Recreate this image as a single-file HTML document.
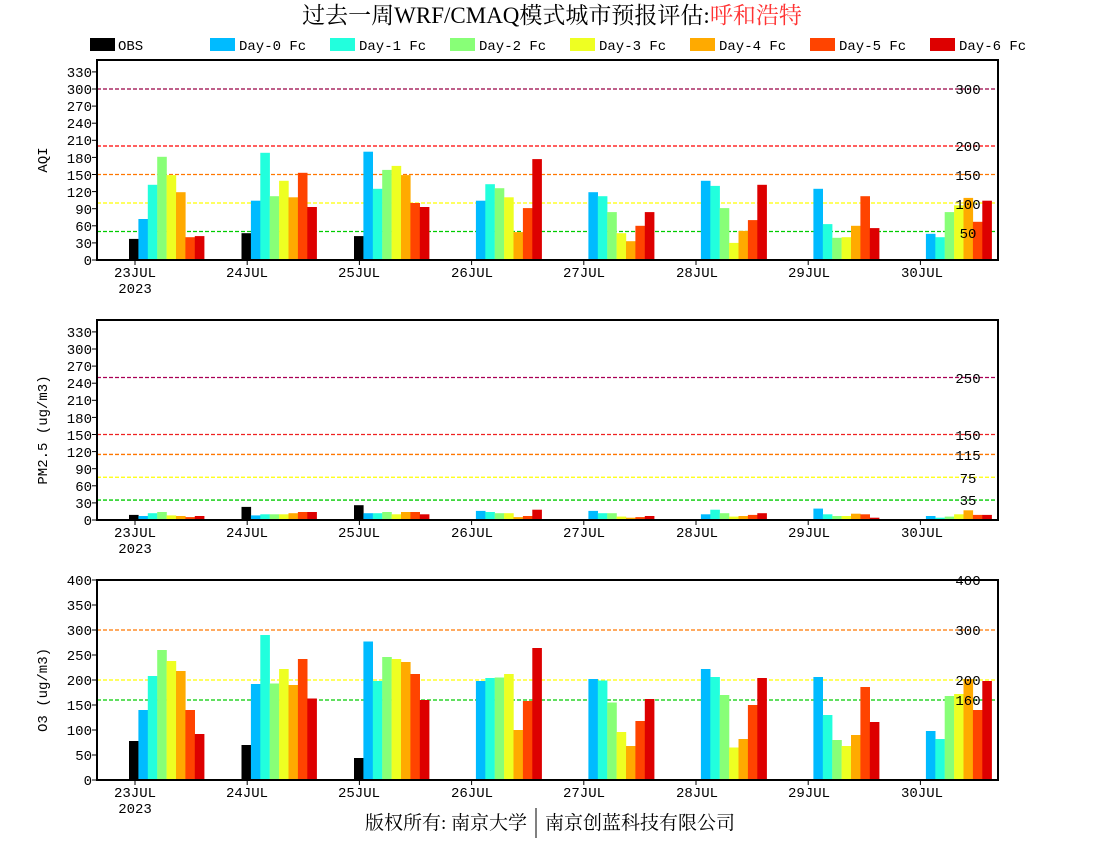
<!DOCTYPE html>
<html><head><meta charset="utf-8"><style>
body{margin:0;background:#fff;}
svg{display:block;}
text{font-family:"Liberation Mono","Noto Sans CJK SC",monospace;font-size:14px;fill:#000;}
.t{font-family:"Liberation Serif","Noto Serif CJK SC",serif;}
</style></head><body>
<svg id="s" width="1100" height="850" xmlns="http://www.w3.org/2000/svg">
<text class="t" x="552" y="23" text-anchor="middle" style="font-size:23px">过去一周WRF/CMAQ模式城市预报评估:<tspan fill="#ff3333">呼和浩特</tspan></text>
<g id="leg" style="font-size:15px">
<rect x="90" y="38" width="25" height="13" fill="#000"/><text x="118" y="50">OBS</text>
<rect x="210" y="38" width="25" height="13" fill="#00bbff"/><text x="239" y="50">Day-0 Fc</text>
<rect x="330" y="38" width="25" height="13" fill="#22ffdd"/><text x="359" y="50">Day-1 Fc</text>
<rect x="450" y="38" width="25" height="13" fill="#88ff77"/><text x="479" y="50">Day-2 Fc</text>
<rect x="570" y="38" width="25" height="13" fill="#eeff22"/><text x="599" y="50">Day-3 Fc</text>
<rect x="690" y="38" width="25" height="13" fill="#ffaa00"/><text x="719" y="50">Day-4 Fc</text>
<rect x="810" y="38" width="25" height="13" fill="#ff4400"/><text x="839" y="50">Day-5 Fc</text>
<rect x="930" y="38" width="25" height="13" fill="#dd0000"/><text x="959" y="50">Day-6 Fc</text>
</g>
<g id="plots"></g>
<g text-anchor="end">
<text x="92" y="265">0</text><text x="92" y="248">30</text><text x="92" y="231">60</text><text x="92" y="214">90</text><text x="92" y="197">120</text><text x="92" y="180">150</text><text x="92" y="163">180</text><text x="92" y="145">210</text><text x="92" y="128">240</text><text x="92" y="111">270</text><text x="92" y="94">300</text><text x="92" y="77">330</text>
<text x="92" y="525">0</text><text x="92" y="508">30</text><text x="92" y="491">60</text><text x="92" y="474">90</text><text x="92" y="457">120</text><text x="92" y="440">150</text><text x="92" y="423">180</text><text x="92" y="405">210</text><text x="92" y="388">240</text><text x="92" y="371">270</text><text x="92" y="354">300</text><text x="92" y="337">330</text>
<text x="92" y="785">0</text><text x="92" y="760">50</text><text x="92" y="735">100</text><text x="92" y="710">150</text><text x="92" y="685">200</text><text x="92" y="660">250</text><text x="92" y="635">300</text><text x="92" y="610">350</text><text x="92" y="585">400</text>
</g>
<g text-anchor="middle">
<text x="968" y="94">300</text><text x="968" y="151">200</text><text x="968" y="180">150</text><text x="968" y="209">100</text><text x="968" y="238">50</text>
<text x="968" y="383">250</text><text x="968" y="440">150</text><text x="968" y="460">115</text><text x="968" y="483">75</text><text x="968" y="505">35</text>
<text x="968" y="585">400</text><text x="968" y="635">300</text><text x="968" y="685">200</text><text x="968" y="705">160</text>
</g>
<g text-anchor="middle">
<text x="135" y="277">23JUL</text><text x="135" y="293">2023</text><text x="247" y="277">24JUL</text><text x="359" y="277">25JUL</text><text x="472" y="277">26JUL</text><text x="584" y="277">27JUL</text><text x="697" y="277">28JUL</text><text x="809" y="277">29JUL</text><text x="922" y="277">30JUL</text>
<text x="135" y="537">23JUL</text><text x="135" y="553">2023</text><text x="247" y="537">24JUL</text><text x="359" y="537">25JUL</text><text x="472" y="537">26JUL</text><text x="584" y="537">27JUL</text><text x="697" y="537">28JUL</text><text x="809" y="537">29JUL</text><text x="922" y="537">30JUL</text>
<text x="135" y="797">23JUL</text><text x="135" y="813">2023</text><text x="247" y="797">24JUL</text><text x="359" y="797">25JUL</text><text x="472" y="797">26JUL</text><text x="584" y="797">27JUL</text><text x="697" y="797">28JUL</text><text x="809" y="797">29JUL</text><text x="922" y="797">30JUL</text>
</g>
<g style="font-size:18px" text-anchor="middle">
<text x="0" y="0" transform="translate(47,160) rotate(-90)">AQI</text>
<text x="0" y="0" transform="translate(47,430) rotate(-90)">PM2.5 (ug/m3)</text>
<text x="0" y="0" transform="translate(47,690) rotate(-90)">O3 (ug/m3)</text>
</g>
<text class="t" x="446" y="829" text-anchor="middle" style="font-size:19px">版权所有: 南京大学</text>
<line x1="536" y1="808" x2="536" y2="838" stroke="#000" stroke-width="1"/>
<text class="t" x="640" y="829" text-anchor="middle" style="font-size:19px">南京创蓝科技有限公司</text>
</svg>
<script>
var C=["#000000","#00bbff","#22ffdd","#88ff77","#eeff22","#ffaa00","#ff4400","#dd0000"];
var P=[
{top:60,zero:260,k:0.57,lines:[[300,"#990044"],[200,"#ff0000"],[150,"#ff7700"],[100,"#ffff00"],[50,"#00cc00"]],yt:[0,30,60,90,120,150,180,210,240,270,300,330],
d:[[37,72,132,181,149,119,40,42],[47,104,188,112,139,110,153,93],[42,190,125,158,165,149,100,93],[0,104,133,126,110,49,91,177],[0,119,112,84,47,33,60,84],[0,139,130,91,30,51,70,132],[0,125,63,39,40,60,112,56],[0,46,40,84,96,109,67,104]]},
{top:320,zero:520,k:0.57,lines:[[250,"#aa0055"],[150,"#ee2222"],[115,"#ff7700"],[75,"#ffff00"],[35,"#00cc00"]],yt:[0,30,60,90,120,150,180,210,240,270,300,330],
d:[[9,7,12,14,8,7,5,7],[23,8,10,10,10,12,14,14],[26,12,12,14,10,14,14,10],[0,16,14,12,12,5,7,18],[0,16,12,12,6,4,5,7],[0,10,18,12,6,7,9,12],[0,20,10,7,7,11,10,4],[0,7,4,6,10,17,9,9]]},
{top:580,zero:780,k:0.5,lines:[[400,"#ff0000"],[300,"#ff7700"],[200,"#ffff00"],[160,"#00cc00"]],yt:[0,50,100,150,200,250,300,350,400],
d:[[78,140,208,260,238,218,140,92],[70,192,290,193,222,190,242,163],[44,277,198,246,242,236,212,160],[0,198,204,205,212,100,158,264],[0,202,199,155,96,68,118,162],[0,222,206,170,65,82,150,204],[0,206,130,80,68,90,186,116],[0,98,82,168,172,202,140,198]]}
];
var L=97,R=998,h="";
P.forEach(function(p){
 p.lines.forEach(function(l){var y=p.zero-l[0]*p.k;h+='<line x1="'+L+'" x2="'+R+'" y1="'+y+'" y2="'+y+'" stroke="'+l[1]+'" stroke-width="1.3" stroke-dasharray="4,2"/>';});
 p.d.forEach(function(g,gi){g.forEach(function(v,i){if(v<=0)return;var x=129+112.5*gi+9.4*i,hh=v*p.k;
  h+='<rect x="'+x.toFixed(1)+'" y="'+(p.zero-hh).toFixed(1)+'" width="9.6" height="'+hh.toFixed(1)+'" fill="'+C[i]+'"/>';});
  var tx=135+112.2*gi;h+='<line x1="'+tx+'" x2="'+tx+'" y1="'+p.zero+'" y2="'+(p.zero+5)+'" stroke="#000"/>';});
 p.yt.forEach(function(v){var y=p.zero-v*p.k;h+='<line x1="'+(L-5)+'" x2="'+L+'" y1="'+y+'" y2="'+y+'" stroke="#000"/>';});
 h+='<rect x="'+L+'" y="'+p.top+'" width="'+(R-L)+'" height="'+(p.zero-p.top)+'" fill="none" stroke="#000" stroke-width="2"/>';
});
document.getElementById("plots").innerHTML=h;
</script>
</body></html>
